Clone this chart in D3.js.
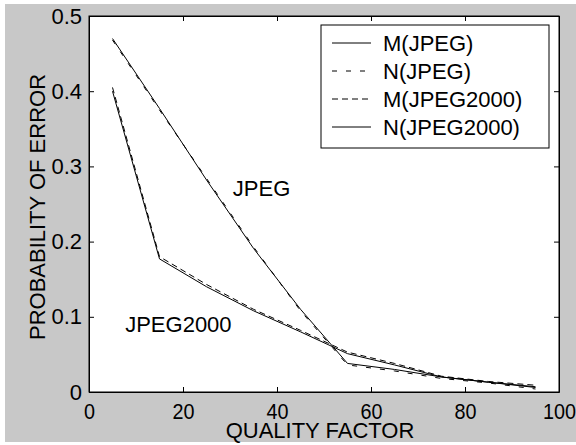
<!DOCTYPE html>
<html>
<head>
<meta charset="utf-8">
<script src="https://cdn.jsdelivr.net/npm/d3@7"></script>
<style>
  body { margin: 0; background: #fff; }
  text { font-family: "Liberation Sans", Arial, sans-serif; fill: #000; }
</style>
</head>
<body>
<div id="chart"></div>
<script>
// values
const quality = [5, 15, 25, 35, 45, 55, 65, 75, 85, 95];
const mJpeg     = [0.470, 0.377, 0.282, 0.191, 0.110, 0.038, 0.030, 0.020, 0.013, 0.006];
const nJpeg     = [0.468, 0.375, 0.284, 0.193, 0.108, 0.036, 0.028, 0.018, 0.012, 0.004];
const mJpeg2000 = [0.405, 0.180, 0.143, 0.110, 0.082, 0.053, 0.038, 0.021, 0.014, 0.009];
const nJpeg2000 = [0.400, 0.177, 0.140, 0.108, 0.080, 0.051, 0.036, 0.020, 0.013, 0.007];
const seriesNames = ['M(JPEG)', 'N(JPEG)', 'M(JPEG2000)', 'N(JPEG2000)'];
const xTicks = [0, 20, 40, 60, 80, 100];
const yTicks = [0, 0.1, 0.2, 0.3, 0.4, 0.5];

const width = 576, height = 445;
const margin = {top: 16, right: 17, bottom: 53, left: 89};
const plotW = width - margin.left - margin.right;
const plotH = height - margin.top - margin.bottom;

const svg = d3.select('#chart')
  .append('svg')
  .attr('width', width)
  .attr('height', height);

//grey figure background
svg.append('rect')
  .attr('x', 5).attr('y', 4)
  .attr('width', width - 5).attr('height', 438)
  .style('fill', '#c8c8c8');

const xScale = d3.scaleLinear().domain([0, 100]).range([0, plotW]);
const yScale = d3.scaleLinear().domain([0, 0.5]).range([plotH, 0]);

const g = svg.append('g')
  .attr('transform', `translate(${margin.left}, ${margin.top})`);

g.append('rect')
  .attr('width', plotW).attr('height', plotH)
  .style('fill', '#fff');

const fmt = d => d === 0 ? '0' : d3.format('.1f')(d);

//axes, ticks pointing inward like matlab
const xAxis = g.append('g')
  .attr('transform', `translate(0, ${plotH})`)
  .call(d3.axisBottom(xScale).tickValues(xTicks).tickSizeInner(-5).tickSizeOuter(0).tickPadding(11).tickFormat(d3.format('d')));
g.append('g')
  .call(d3.axisLeft(yScale).tickValues(yTicks).tickSizeInner(-5).tickSizeOuter(0).tickPadding(7).tickFormat(fmt));
g.append('g')
  .call(d3.axisTop(xScale).tickValues(xTicks).tickSizeInner(-5).tickSizeOuter(0).tickFormat(''));
g.append('g')
  .attr('transform', `translate(${plotW}, 0)`)
  .call(d3.axisRight(yScale).tickValues(yTicks).tickSizeInner(-5).tickSizeOuter(0).tickFormat(''));

g.selectAll('.domain').style('stroke', '#000');
g.selectAll('.tick line').style('stroke', '#000');
g.selectAll('.tick text')
  .style('font-size', '22px')
  .style('font-family', '"Liberation Sans", Arial, sans-serif');
//x digits are a bit narrower in the original
xAxis.selectAll('.tick text').attr('transform', 'scale(0.9,1)');

g.append('rect')
  .attr('width', plotW).attr('height', plotH)
  .style('fill', 'none').style('stroke', '#000').style('stroke-width', 1);

const dashes = [null, '5,9', '6,4', null];
const seriesData = [mJpeg, nJpeg, mJpeg2000, nJpeg2000];

const line = d3.line()
  .x((d, i) => xScale(quality[i]))
  .y(d => yScale(d));

seriesData.forEach((vals, k) => {
  g.append('path')
    .datum(vals)
    .attr('d', line)
    .style('fill', 'none')
    .style('stroke', '#000')
    .style('stroke-width', 1)
    .style('stroke-dasharray', dashes[k]);
});

//annotations
g.append('text')
  .attr('x', xScale(30.6)).attr('y', yScale(0.26))
  .style('font-size', '22px')
  .text('JPEG');
g.append('text')
  .attr('x', xScale(7.7)).attr('y', yScale(0.08))
  .style('font-size', '22px')
  .text('JPEG2000');

//axis labels
svg.append('text')
  .attr('x', margin.left + plotW / 2 - 4)
  .attr('y', 438)
  .attr('text-anchor', 'middle')
  .style('font-size', '22px')
  .text('QUALITY FACTOR');
svg.append('text')
  .attr('transform', `translate(45, ${margin.top + plotH / 2 + 3}) rotate(-90)`)
  .attr('text-anchor', 'middle')
  .style('font-size', '22px')
  .text('PROBABILITY OF ERROR');

//legend
const legend = svg.append('g')
  .attr('transform', 'translate(321, 25)');
legend.append('rect')
  .attr('width', 228).attr('height', 123)
  .style('fill', '#fff').style('stroke', '#000');

seriesNames.forEach((name, k) => {
  const cy = 18 + k * 28;
  legend.append('line')
    .attr('x1', 11).attr('x2', 50)
    .attr('y1', cy).attr('y2', cy)
    .style('stroke', '#000')
    .style('stroke-dasharray', dashes[k]);
  legend.append('text')
    .attr('x', 62).attr('y', cy + 8)
    .style('font-size', '22px')
    .text(name);
});
</script>
</body>
</html>
